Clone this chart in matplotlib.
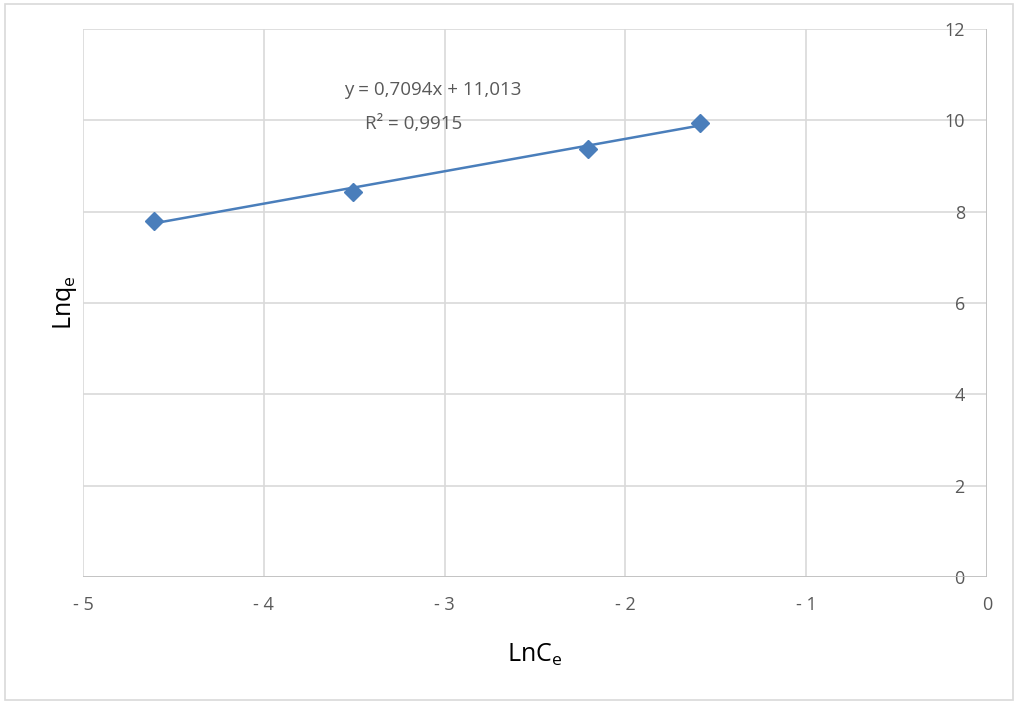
import matplotlib.pyplot as plt
from matplotlib.patches import Rectangle

# Freundlich linearisation: ln Ce vs ln qe
ln_ce = [-4.605, -3.507, -2.207, -1.585]
ln_qe = [7.80, 8.43, 9.38, 9.95]

# linear fit reported for the series
slope = 0.7094
intercept = 11.013
r2 = 0.9915

x_ticks = [-5, -4, -3, -2, -1, 0]
y_ticks = [0, 2, 4, 6, 8, 10, 12]

blue = '#4A7EBB'
grey_text = '#595959'
grid_col = '#D9D9D9'

plt.rcParams['font.family'] = ['Open Sans', 'DejaVu Sans']

fig = plt.figure(figsize=(10.17, 7.04), dpi=100)
ax = fig.add_axes([83 / 1017, 127 / 704, 904 / 1017, 548 / 704])

# chart border
fig.patches.append(Rectangle((5 / 1017, 4 / 704), 1008 / 1017, 696 / 704,
                             transform=fig.transFigure, fill=False,
                             edgecolor='#D9D9D9', linewidth=1.2))

ax.set_xlim(-5, 0)
ax.set_ylim(0, 12)
ax.set_xticks(x_ticks)
ax.set_yticks(y_ticks)
ax.set_xticklabels([str(v).replace('-', '- ') if v < 0 else str(v) for v in x_ticks])
ax.grid(True, color=grid_col, linewidth=1.2)
ax.set_axisbelow(True)

for side in ['top', 'left', 'right', 'bottom']:
    ax.spines[side].set_visible(False)
ax.axhline(0, color='#BFBFBF', linewidth=1.2, zorder=1)
ax.axvline(0, color='#BFBFBF', linewidth=1.2, zorder=1)

# value axis sits at x = 0, labels just left of it
ax.yaxis.tick_right()
ax.tick_params(axis='both', length=0, labelsize=13, labelcolor=grey_text)
ax.tick_params(axis='x', pad=14)
ax.tick_params(axis='y', pad=-16)
for lab in ax.get_yticklabels():
    lab.set_horizontalalignment('right')

# trendline across the data range
xs = [min(ln_ce), max(ln_ce)]
ax.plot(xs, [slope * v + intercept for v in xs], color=blue, linewidth=1.8, zorder=2)
ax.plot(ln_ce, ln_qe, linestyle='none', marker='D', markersize=9,
        color=blue, zorder=3)

ax.text(-3.064, 10.66, 'y = 0,7094x + 11,013', ha='center', va='center',
        fontsize=13.5, color=grey_text)
ax.text(-3.169, 9.92, 'R² = 0,9915', ha='center', va='center',
        fontsize=13.5, color=grey_text)

ax.set_xlabel(r'LnC$_\mathregular{e}$', fontsize=18, labelpad=20)
ax.set_ylabel(r'Lnq$_\mathregular{e}$', fontsize=18, labelpad=3)

fig.savefig('out.png', dpi=100)
